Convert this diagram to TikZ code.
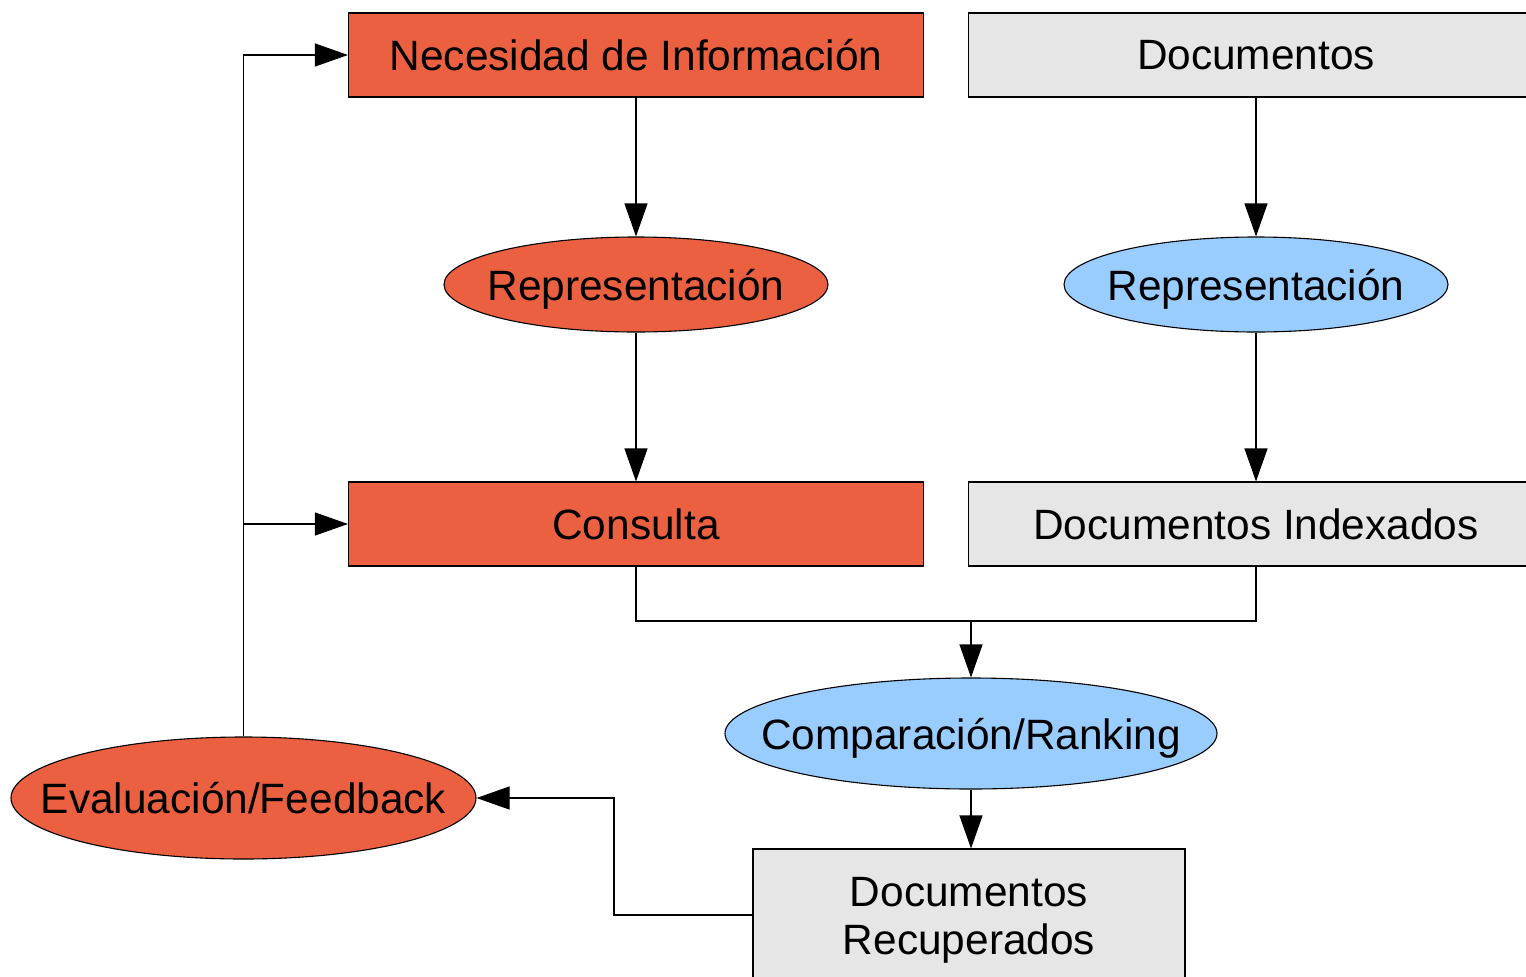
\documentclass[tikz,border=0pt]{standalone}
\usepackage{fontspec}
\setmainfont{Liberation Sans}
\usetikzlibrary{arrows.meta,shapes.geometric}
\definecolor{rojo}{HTML}{EA6040}
\definecolor{gris}{HTML}{E6E6E6}
\definecolor{azul}{HTML}{99CCFF}
\tikzset{
  base/.style={draw=black,line width=1.1pt,inner sep=0pt,align=center,
    font=\fontsize{42.4}{48}\selectfont},
  caja/.style={base,rectangle,minimum width=575pt,minimum height=84pt},
  elipse/.style={base,ellipse},
  arr/.style={line width=1.1pt,-{Triangle[length=33pt,width=23pt]}},
  lin/.style={line width=1.1pt}
}
% zero-size label, baseline set below the centre, so the ellipse keeps its given size
\newcommand{\etiq}[1]{\makebox[0pt]{\raisebox{-15.5pt}[0pt][0pt]{#1}}}
\begin{document}
\begin{tikzpicture}[x=1pt,y=-1pt]
\useasboundingbox (0,0) rectangle (1526,977);
\clip (0,0) rectangle (1526,977);
% process boxes
\node[caja,fill=rojo] (nec) at (636,55) {Necesidad de Información};
\node[caja,fill=gris] (docs) at (1256,55) {Documentos};
\node[caja,fill=rojo] (cons) at (636,524) {Consulta};
\node[caja,fill=gris] (idx) at (1256,524) {Documentos Indexados};
\node[base,rectangle,fill=gris,minimum width=432pt,minimum height=142pt] (rec) at (969,920) {Documentos\\Recuperados};
% ellipses
\node[elipse,fill=rojo,minimum width=384pt,minimum height=95pt] (repq) at (636,284.5) {\etiq{Representación}};
\node[elipse,fill=azul,minimum width=384pt,minimum height=95pt] (repd) at (1256,284.5) {\etiq{Representación}};
\node[elipse,fill=azul,minimum width=492pt,minimum height=111pt] (comp) at (971,733.5) {\etiq{Comparación/Ranking}};
\node[elipse,fill=rojo,minimum width=465pt,minimum height=122pt] (eval) at (243.5,798) {\etiq{Evaluación/Feedback}};
% junction points
\coordinate (merge) at (971,621);
\coordinate (bend) at (614,915);
% connectors
\draw[arr] (nec.south) -- (repq.north);
\draw[arr] (repq.south) -- (cons.north);
\draw[arr] (docs.south) -- (repd.north);
\draw[arr] (repd.south) -- (idx.north);
\draw[lin] (cons.south) |- (merge) -| (idx.south);
\draw[arr] (merge) -- (comp.north);
\draw[arr] (comp.south) -- (comp.south |- rec.north);
\draw[arr] (rec.west |- bend) -- (bend) |- (eval.east);
\draw[arr] (eval.north) |- (nec.west);
\draw[arr] (eval.north |- cons.west) -- (cons.west);
\end{tikzpicture}
\end{document}
